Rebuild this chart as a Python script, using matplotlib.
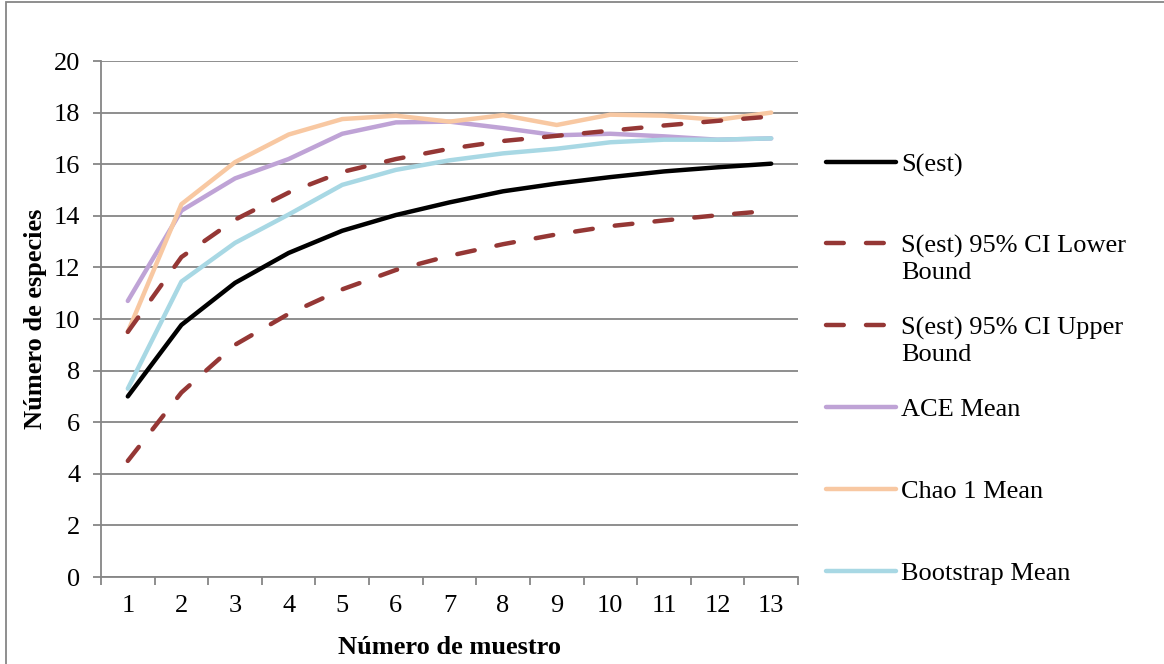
import matplotlib
matplotlib.use("Agg")
import matplotlib.pyplot as plt
from matplotlib.lines import Line2D
from matplotlib.patches import Rectangle

plt.rcParams['font.family'] = ['Liberation Serif', 'DejaVu Serif']

muestras = list(range(1, 14))
s_est = [7.0, 9.77, 11.4, 12.56, 13.42, 14.03, 14.52, 14.95, 15.25, 15.5, 15.72, 15.88, 16.02]
ci_lower = [4.5, 7.15, 9.0, 10.2, 11.15, 11.9, 12.45, 12.9, 13.28, 13.6, 13.82, 14.02, 14.2]
ci_upper = [9.5, 12.4, 13.85, 14.9, 15.7, 16.2, 16.6, 16.9, 17.1, 17.3, 17.5, 17.68, 17.85]
ace_mean = [10.7, 14.2, 15.45, 16.2, 17.18, 17.62, 17.65, 17.4, 17.12, 17.18, 17.08, 16.95, 17.0]
chao1_mean = [9.5, 14.45, 16.08, 17.15, 17.75, 17.88, 17.65, 17.9, 17.52, 17.92, 17.88, 17.72, 18.0]
boot_mean = [7.3, 11.45, 12.95, 14.05, 15.2, 15.78, 16.15, 16.42, 16.6, 16.85, 16.95, 16.95, 17.0]

labels = ["S(est)", "S(est) 95% CI Lower\nBound", "S(est) 95% CI Upper\nBound",
          "ACE Mean", "Chao 1 Mean", "Bootstrap Mean"]
series = [s_est, ci_lower, ci_upper, ace_mean, chao1_mean, boot_mean]
colors = ["#000000", "#953735", "#953735", "#BFA3D6", "#F8C8A2", "#A8D8E4"]
dashed = [False, True, True, False, False, False]

FS = 19
W, H = 1164, 664
fig = plt.figure(figsize=(W / 100, H / 100), dpi=100)
ax = fig.add_axes([101 / W, 1 - 577 / H, (798 - 101) / W, (577 - 61) / H])

lw = 3.2
dash_pat = (4.0, 5.0)
order = [3, 4, 5, 0, 1, 2]
for i in order:
    kw = dict(color=colors[i], lw=lw, solid_capstyle='round', solid_joinstyle='round')
    if dashed[i]:
        kw.update(dashes=dash_pat, dash_capstyle='round')
    ax.plot(muestras, series[i], **kw, zorder=3)

ax.set_xlim(0.5, 13.5)
ax.set_ylim(0, 20)
ax.set_yticks(range(0, 21, 2))
ax.set_xticks(muestras)
ax.set_xticks([k + 0.5 for k in range(0, 14)], minor=True)
ax.tick_params(axis='x', which='major', length=0, labelsize=FS, pad=13)
ax.tick_params(axis='x', which='minor', length=6, width=1.3, color='#868686', direction='out')
ax.tick_params(axis='y', length=6, width=1.3, color='#868686', direction='out', labelsize=FS, pad=9)
ax.grid(axis='y', color='#868686', lw=1.3, zorder=0)
for s in ['top', 'right']:
    ax.spines[s].set_visible(False)
for s in ['left', 'bottom']:
    ax.spines[s].set_color('#868686')
    ax.spines[s].set_linewidth(1.3)

ax.set_xlabel("Número de muestro", fontsize=FS, fontweight='bold', labelpad=14)
ax.set_ylabel("Número de especies", fontsize=FS, fontweight='bold', labelpad=5)

# Legend drawn manually (handle aligned with first text line)
y_first = [162, 243, 325, 407, 489, 571]
for i, yl in enumerate(y_first):
    yf = 1 - yl / H
    kw = dict(color=colors[i], lw=lw, solid_capstyle='round')
    if dashed[i]:
        kw.update(dashes=dash_pat, dash_capstyle='round')
    fig.add_artist(Line2D([826 / W, 896 / W], [yf, yf], transform=fig.transFigure, **kw))
    fig.text(901 / W, yf + 8 / H, labels[i], fontsize=FS, va='top', ha='left',
             linespacing=1.22)

# outer chart border
fig.add_artist(Rectangle((6 / W, -0.1), 1.2, 1.1 - 2.5 / H, transform=fig.transFigure,
                         fill=False, edgecolor='#868686', lw=1.3))

fig.savefig("out.png", dpi=100)
